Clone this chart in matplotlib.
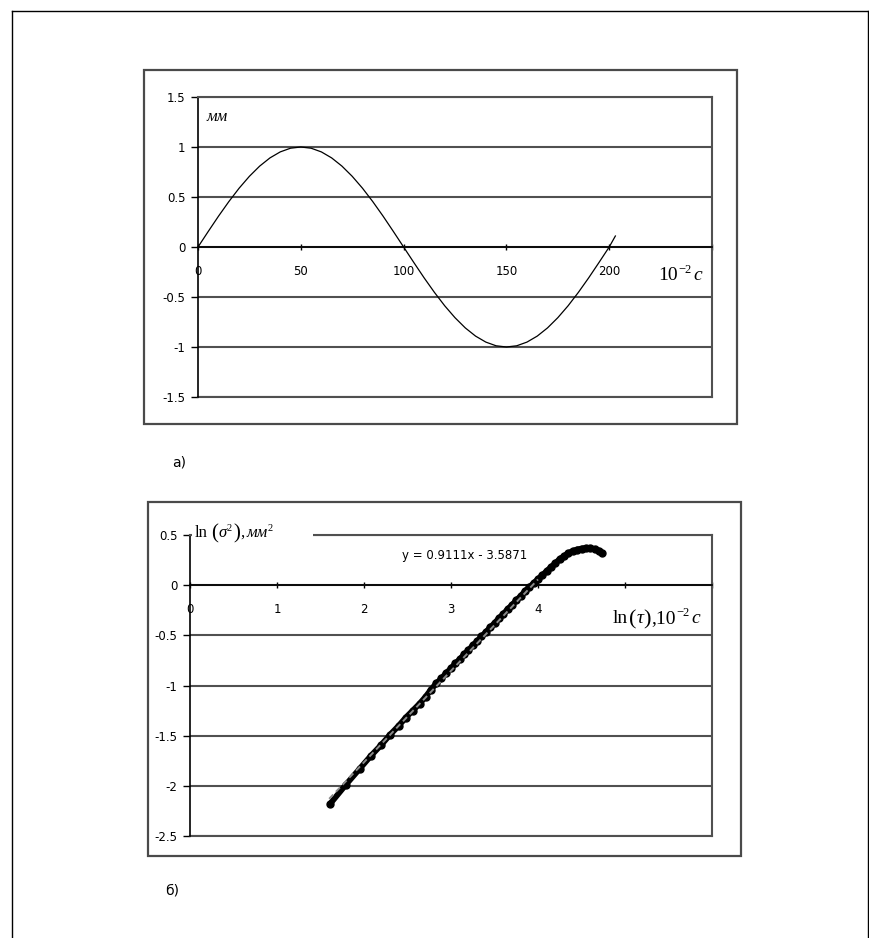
import matplotlib
matplotlib.use('Agg')
import matplotlib.pyplot as plt
from matplotlib.patches import Rectangle
from matplotlib.lines import Line2D

plt.rcParams['font.family'] = ['DejaVu Sans']

# ---------------- data: chart a) ----------------
t_vals = [0, 5, 10, 15, 20, 25, 30, 35, 40, 45, 50, 55, 60, 65, 70, 75, 80, 85, 90, 95,
          100, 105, 110, 115, 120, 125, 130, 135, 140, 145, 150, 155, 160, 165, 170, 175,
          180, 185, 190, 195, 200, 203]
s_vals = [0, 0.156, 0.309, 0.454, 0.588, 0.707, 0.809, 0.891, 0.951, 0.988, 1.0, 0.988,
          0.951, 0.891, 0.809, 0.707, 0.588, 0.454, 0.309, 0.156, 0.0, -0.156, -0.309,
          -0.454, -0.588, -0.707, -0.809, -0.891, -0.951, -0.988, -1.0, -0.988, -0.951,
          -0.891, -0.809, -0.707, -0.588, -0.454, -0.309, -0.156, 0.0, 0.11]
top_yticks = [-1.5, -1, -0.5, 0, 0.5, 1, 1.5]
top_ytick_labels = ['-1.5', '-1', '-0.5', '0', '0.5', '1', '1.5']
top_xticks = [0, 50, 100, 150, 200, 250]
top_xtick_labels = ['0', '50', '100', '150', '200', '']

# ---------------- data: chart б) ----------------
ln_tau = [1.61, 1.79, 1.95, 2.08, 2.20, 2.30, 2.40, 2.48, 2.56, 2.64, 2.71, 2.77, 2.83,
          2.89, 2.94, 3.00, 3.05, 3.10, 3.15, 3.20, 3.25, 3.30, 3.35, 3.40, 3.45, 3.50,
          3.55, 3.60, 3.65, 3.70, 3.75, 3.80, 3.85, 3.90, 3.95, 4.00, 4.05, 4.10, 4.15,
          4.20, 4.25, 4.30, 4.35, 4.40, 4.45, 4.50, 4.55, 4.60, 4.65, 4.70, 4.74]
ln_sigma2 = [-2.18, -1.99, -1.83, -1.70, -1.59, -1.49, -1.40, -1.32, -1.25, -1.18, -1.11,
             -1.04, -0.98, -0.93, -0.88, -0.83, -0.78, -0.74, -0.69, -0.65, -0.60, -0.56,
             -0.51, -0.47, -0.42, -0.38, -0.33, -0.29, -0.24, -0.20, -0.15, -0.11, -0.06,
             -0.02, 0.02, 0.06, 0.10, 0.14, 0.18, 0.22, 0.26, 0.29, 0.32, 0.34, 0.355,
             0.365, 0.37, 0.37, 0.36, 0.345, 0.32]
trend_slope = 0.9111
trend_intercept = -3.5871
trend_span = [1.6, 4.0]
bot_yticks = [-2.5, -2, -1.5, -1, -0.5, 0, 0.5]
bot_ytick_labels = ['-2.5', '-2', '-1.5', '-1', '-0.5', '0', '0.5']
bot_xticks = [0, 1, 2, 3, 4, 5, 6]
bot_xtick_labels = ['0', '1', '2', '3', '4', '', '']

# ---------------- layout ----------------
W, H = 869, 938
fig = plt.figure(figsize=(W / 100, H / 100), dpi=100)
renderer = fig.canvas.get_renderer()


def fx(x):
    return x / W


def fy(y):
    return 1 - y / H


GRID = '#505050'
SERIF = 'Liberation Serif'

# outer page frame (open at the bottom)
for xs, ys in [([12, 12], [11, 938]), ([12, 868], [11, 11]), ([868, 868], [11, 938])]:
    fig.add_artist(Line2D([fx(v) for v in xs], [fy(v) for v in ys], color='black',
                          lw=1.0, transform=fig.transFigure))

# chart area boxes
for (x0, y0, x1, y1) in [(144, 70, 737, 424), (148, 502, 741, 856)]:
    fig.add_artist(Rectangle((fx(x0), fy(y1)), fx(x1) - fx(x0), fy(y0) - fy(y1),
                             fill=False, edgecolor='#4a4a4a', lw=1.6,
                             transform=fig.transFigure))


def setup(ax, xlim, ylim, yticks, ylabels, xticks, xlabels):
    ax.set_xlim(*xlim)
    ax.set_ylim(*ylim)
    ax.set_yticks(yticks)
    ax.set_yticklabels(ylabels)
    ax.set_xticks(xticks)
    ax.set_xticklabels(xlabels)
    ax.set_facecolor('white')
    for s in ['top', 'right']:
        ax.spines[s].set_color(GRID)
        ax.spines[s].set_linewidth(1.5)
    ax.spines['left'].set_color('black')
    ax.spines['left'].set_linewidth(1.2)
    ax.spines['bottom'].set_position(('data', 0))
    ax.spines['bottom'].set_color('black')
    ax.spines['bottom'].set_linewidth(1.2)
    ax.spines['bottom'].set_zorder(3)
    ax.grid(True, axis='y', color=GRID, lw=1.5)
    ax.set_axisbelow(True)
    ax.axhline(ylim[0], color=GRID, lw=1.5, clip_on=False, zorder=1)
    ax.tick_params(axis='y', direction='out', length=5, width=1, pad=4, labelsize=8.5,
                   colors='black')
    ax.tick_params(axis='x', direction='inout', length=4, width=1, pad=11, labelsize=8.5,
                   colors='black')


def rich(x0, baseline, pieces):
    """Place text pieces left to right; each piece = (text, size, style, raise_px, gap_px)."""
    x = x0
    for s, size, style, dy, gap in pieces:
        x += gap
        t = fig.text(fx(x), fy(baseline - dy), s, fontsize=size, style=style,
                     family=SERIF, ha='left', va='baseline', zorder=4)
        x += t.get_window_extent(renderer).width
    return x


# ---------------- chart a) ----------------
ax1 = fig.add_axes([fx(198), fy(397), fx(712) - fx(198), fy(97) - fy(397)])
setup(ax1, (0, 250), (-1.5, 1.5), top_yticks, top_ytick_labels, top_xticks, top_xtick_labels)
ax1.plot(t_vals, s_vals, color='black', lw=0.9, zorder=4)

fig.text(fx(206), fy(117), 'мм', fontsize=12, family=SERIF, style='italic',
         ha='left', va='center', zorder=4)
rich(658, 280, [('10', 14, 'normal', 0, 0), ('\u22122', 9, 'normal', 7, 1),
                ('c', 14, 'italic', 0, 2)])
fig.text(fx(172), fy(462), 'а)', fontsize=10, ha='left', va='center')

# ---------------- chart б) ----------------
ax2 = fig.add_axes([fx(190), fy(836), fx(712) - fx(190), fy(535) - fy(836)])
setup(ax2, (0, 6), (-2.5, 0.5), bot_yticks, bot_ytick_labels, bot_xticks, bot_xtick_labels)
ax2.plot(ln_tau, ln_sigma2, '-', color='black', lw=4.2, zorder=4, solid_capstyle='round')
ax2.plot(ln_tau, ln_sigma2, 'o', color='black', ms=5.0, zorder=4)
trend_y = [trend_slope * v + trend_intercept for v in trend_span]
ax2.plot(trend_span, trend_y, color='#8a8a8a', lw=1.4, dashes=(3, 2), zorder=5)

# y-axis title with white background hiding the top grid line
fig.add_artist(Rectangle((fx(192), fy(546)), fx(313) - fx(192), fy(522) - fy(546),
                         facecolor='white', edgecolor='none', zorder=2,
                         transform=fig.transFigure))
rich(195, 537, [('ln', 12, 'normal', 0, 0), ('(', 15, 'normal', -1, 3),
                ('σ', 12, 'italic', 0, 1), ('2', 7.5, 'normal', 6, 0),
                (')', 15, 'normal', -1, 1), (',', 12, 'normal', 0, 0),
                ('мм', 12, 'italic', 0, 2), ('2', 7.5, 'normal', 6, 0)])

fig.text(fx(402), fy(556), 'y = 0.9111x - 3.5871', fontsize=8.5, ha='left', va='center')

rich(613, 623, [('ln', 14, 'normal', 0, 0), ('(', 16, 'normal', -1, 1),
                ('τ', 14, 'italic', 0, 0), (')', 16, 'normal', -1, 0),
                (',10', 14, 'normal', 0, 0), ('\u22122', 9, 'normal', 7, 1),
                ('c', 14, 'italic', 0, 2)])
fig.text(fx(165), fy(890), 'б)', fontsize=10, ha='left', va='center')

fig.savefig('out.png', dpi=100, facecolor='white')
